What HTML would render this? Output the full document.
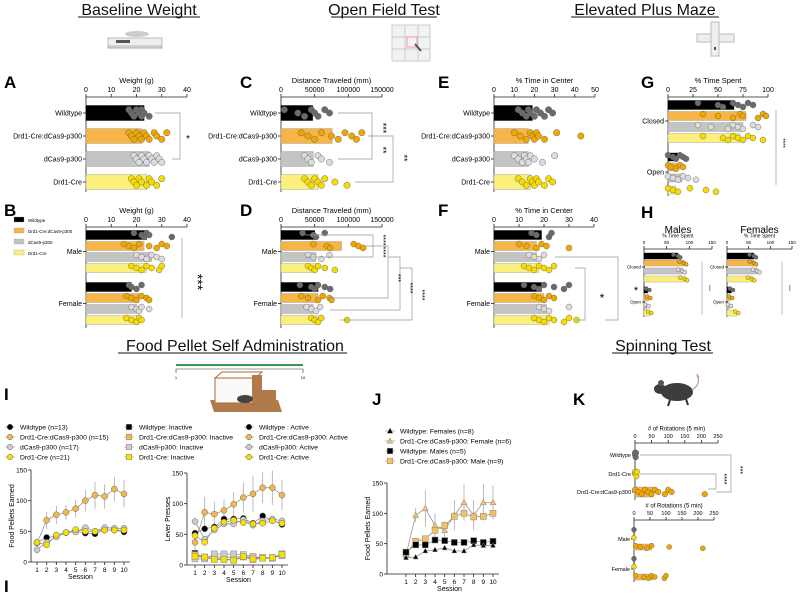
<!DOCTYPE html>
<html><head><meta charset="utf-8">
<style>
html,body{margin:0;padding:0;background:#fff}
svg{display:block;font-family:"Liberation Sans",Arial,sans-serif}
</style></head>
<body>
<svg id="fig" width="800" height="598" viewBox="0 0 800 598" xmlns="http://www.w3.org/2000/svg">
<g font-size="16" fill="#111" text-anchor="middle">
<text x="139" y="15">Baseline Weight</text>
<line x1="78" y1="17" x2="200" y2="17" stroke="#111"/>
<text x="384" y="15">Open Field Test</text>
<line x1="331" y1="17" x2="437" y2="17" stroke="#111"/>
<text x="645" y="15">Elevated Plus Maze</text>
<line x1="571" y1="17" x2="719" y2="17" stroke="#111"/>
<text x="235" y="351">Food Pellet Self Administration</text>
<line x1="118" y1="353" x2="347" y2="353" stroke="#111"/>
<text x="663" y="351">Spinning Test</text>
<line x1="612" y1="353" x2="713" y2="353" stroke="#111"/>
</g>
<g>
<g><polygon points="112,40 158,40 162,48 108,48" fill="#ddd" stroke="#aaa"/><rect x="108" y="38" width="54" height="8" fill="#eee" stroke="#bbb"/><ellipse cx="137" cy="34" rx="12" ry="3" fill="#ccc"/><rect x="116" y="40" width="14" height="3" fill="#555"/></g>
<g><rect x="392" y="25" width="38" height="36" fill="#f1f2f4" stroke="#ccc"/><line x1="405" y1="25" x2="405" y2="61" stroke="#ccc"/><line x1="418" y1="25" x2="418" y2="61" stroke="#ccc"/><line x1="392" y1="37" x2="430" y2="37" stroke="#ccc"/><line x1="392" y1="49" x2="430" y2="49" stroke="#ccc"/><rect x="407" y="37" width="10" height="10" fill="none" stroke="#e9a"/><line x1="415" y1="44" x2="421" y2="51" stroke="#555" stroke-width="2"/></g>
<g><rect x="697" y="34" width="37" height="8" fill="#eee" stroke="#bbb"/><rect x="711" y="22" width="8" height="34" fill="#eee" stroke="#bbb"/><rect x="714" y="47" width="2" height="3" fill="#555"/></g>
<g><polygon points="210,400 278,400 282,412 214,412" fill="#b07a4a"/><rect x="215" y="378" width="40" height="25" fill="#fafafa" stroke="#a66b3a"/><polygon points="215,378 222,372 262,372 255,378" fill="#fff" stroke="#a66b3a"/><rect x="252" y="375" width="10" height="28" fill="#b07a4a"/><rect x="262" y="390" width="14" height="12" fill="#b07a4a"/><ellipse cx="245" cy="399" rx="8" ry="4" fill="#444"/></g>
<line x1="176" y1="365" x2="303" y2="365" stroke="#3a9a4a" stroke-width="2"/>
<path d="M176,373 V369 H303 V373" fill="none" stroke="#333" stroke-width="0.6"/>
<text x="176" y="379" font-size="4" text-anchor="middle">1</text><text x="303" y="379" font-size="4" text-anchor="middle">10</text>
<g><ellipse cx="677" cy="392" rx="16" ry="9" fill="#3d3d3d"/><ellipse cx="660" cy="389" rx="6" ry="5" fill="#3d3d3d"/><circle cx="661" cy="383" r="3" fill="#555"/><path d="M692,390 Q700,385 698,378 T699,378" stroke="#c9928a" fill="none" stroke-width="1.2"/><line x1="670" y1="400" x2="668" y2="406" stroke="#333" stroke-width="2"/><line x1="686" y1="399" x2="688" y2="405" stroke="#333" stroke-width="2"/></g>
</g>
<g id="panels"></g>
</svg>
<script>
// ===== DATA =====
const groups = ["Wildtype","Drd1-Cre:dCas9-p300","dCas9-p300","Drd1-Cre"];
const sexes = ["Male","Female"];
// A weight (g)
const aMeans=[23,22,25,24];
const aDots=[[17,18,19,20,21,22,22,23,25],[17,18,19,20,21,22,23,24,25,27,28,30,32],[19,20,21,22,23,24,25,26,27,28,29,30],[18,19,20,21,22,24,25,26,28,30]];
// B weight by sex
const bMeans=[[24,23,26,24],[18,21,20,21]];
const bDots=[[[19,22,23,24,25,34],[15,17,19,21,25,28,30,32],[20,22,24,26,28,30],[18,20,22,24,26,29,30]],[[17,18,20,22],[16,18,20,22,24,25],[18,20,21,22,25],[16,18,20,21,22]]];
// C distance (mm)
const cMeans=[47000,76000,48000,55000];
const cDots=[[5000,25000,35000,45000,50000,55000,65000,72000],[30000,40000,50000,60000,75000,85000,95000,105000,112000,120000],[35000,40000,45000,55000,60000,72000],[35000,40000,45000,50000,55000,60000,65000,80000,98000]];
// D distance by sex
const dMeans=[[50000,90000,52000,52000],[55000,55000,48000,55000]];
const dDots=[[[32000,48000,52000,65000],[48000,68000,73000,108000,115000,122000],[40000,48000,60000,72000],[40000,45000,50000,55000,65000,80000]],[[28000,45000,50000,55000,65000,73000],[30000,40000,55000,62000,72000,75000],[38000,45000,52000,58000],[45000,50000,55000,60000,98000]]];
// E % time center
const eMeans=[19,17,17,18];
const eDots=[[12,14,16,17,18,20,21,23,25,27,29],[10,13,16,18,19,20,21,22,25,31,43],[10,12,14,15,16,17,18,20,24,30],[12,14,16,18,19,20,21,22,25,27,29]];
// F % time center by sex
const fMeans=[[19,17,17,18],[19,20,21,22]];
const fDots=[[[15,17,22,23],[10,13,17,19,21,30],[14,16,18,20],[12,14,16,18,20,22,24]],[[12,16,18,20,24,28,30],[16,18,20,22,24],[18,20,22,30],[16,18,20,22,24,28,30,33]]];
// G EPM % time spent
const gClosedMeans=[66,78,75,72];
const gOpenMeans=[10,9,14,8];
const gClosedDots=[[30,50,55,65,70,75,80,85],[35,50,65,72,75,90,95,98],[30,43,60,65,70,75,85,90],[35,55,60,65,70,75,80,85,95]];
const gOpenDots=[[0,5,8,12,15,18],[0,3,8,12,15],[0,5,10,15,20,28],[0,5,10,22,38,48]];
// H by sex
const hMalesClosed=[75,88,85,90], hMalesOpen=[8,10,6,12];
const hFemClosed=[62,62,70,58], hFemOpen=[10,8,5,22];
// I food pellets
const sessions=[1,2,3,4,5,6,7,8,9,10];
const iWT=[32,40,42,48,50,47,46,52,52,49];
const iCas=[31,68,77,81,87,100,109,107,119,111];
const iDc=[20,32,41,48,49,56,50,56,55,55];
const iCre=[32,28,44,48,53,50,50,52,52,52];
const iCasErr=[5,14,15,12,14,18,22,20,20,22];
// I lever presses
const lpActWT=[52,59,62,75,75,76,68,80,73,66];
const lpActCas=[37,86,83,89,99,110,116,126,126,114];
const lpActDc=[71,42,57,67,67,74,65,72,75,72];
const lpActCre=[48,37,60,70,73,69,67,68,72,68];
const lpInWT=[19,13,13,13,12,14,12,12,12,18];
const lpInCas=[17,12,10,10,8,13,9,11,11,18];
const lpInDc=[10,10,18,18,18,17,14,11,12,15];
const lpInCre=[14,13,9,9,8,14,10,11,12,17];
const lpCasErr=[20,25,20,18,20,25,30,25,28,25];
// J sex split
const jWTF=[27,28,38,40,43,38,38,48,47,47];
const jCasF=[31,97,108,80,72,97,118,97,118,118];
const jWTM=[36,48,48,56,55,52,52,55,52,54];
const jCasM=[33,54,58,72,80,95,100,94,95,100];
const jErr=[5,12,30,20,15,25,30,25,30,28];
// K rotations
const kMeans=[2,3,55];
const kDots=[[0,1,2,3],[0,2,4,6],[0,10,20,30,40,50,60,70,90,100,110,210]];
const kMaleMeans=[1,2,55], kFemMeans=[1,1,60];
const kMaleDots=[[0],[0],[5,20,40,55,110,215]];
const kFemDots=[[0],[0],[5,30,45,55,65,95,100]];

// ===== HELPERS =====
const NS="http://www.w3.org/2000/svg";
const root=document.getElementById('panels');
function el(tag,attrs,parent,txt){const e=document.createElementNS(NS,tag);for(const k in attrs)e.setAttribute(k,attrs[k]);if(txt!==undefined)e.textContent=txt;(parent||root).appendChild(e);return e;}
const barFill=["#000","#f5b548","#c4c4c4","#fbf07e"];
const dotFill=["#6b6b6b","#f0a800","#dcdcdc","#f6dc00"];
function panelLetter(x,y,t){const e=el('text',{x:x,y:y,'font-size':17,'font-weight':'bold',fill:'#000'},root,t);

}
function hAxis(g,x0,x1,y,max,ticks,title,fs){
 const sx=v=>x0+(x1-x0)*v/max;
 el('line',{x1:x0,y1:y,x2:x1,y2:y,stroke:'#222','stroke-width':0.8},g);
 ticks.forEach(t=>{el('line',{x1:sx(t),y1:y,x2:sx(t),y2:y-3,stroke:'#222','stroke-width':0.8},g);
  const tx=el('text',{x:sx(t),y:y-5,'font-size':fs,'text-anchor':'middle'},g,String(t));
  
  });
 const tt=el('text',{x:(x0+x1)/2,y:y-5-fs-2,'font-size':fs+0.5,'text-anchor':'middle'},g,title);
 
 
 return sx;}
function hRow(g,sx,x0,y,h,gi,mean,dots,r){
 const b=el('rect',{x:x0,y:y-h/2,width:sx(mean)-x0,height:h,fill:barFill[gi],stroke:gi==0?'#000':'#999','stroke-width':0.4},g);
 
 
 dots.forEach((v,i)=>{const c=el('circle',{cx:sx(v),cy:y+((i%3)-1)*h*0.22,r:r,fill:dotFill[gi],stroke:'#555','stroke-width':0.4},g);
  
  });}
function vAxisLine(g,x,y0,y1){el('line',{x1:x,y1:y0,x2:x,y2:y1,stroke:'#222','stroke-width':0.8},g);}
function catLabel(g,x,y,t,fs){const e=el('text',{x:x,y:y+fs*0.35,'font-size':fs,'text-anchor':'end'},g,t);
 
 
 el('line',{x1:x+1,y1:y,x2:x+4,y2:y,stroke:'#222','stroke-width':0.8},g);}
function bracket(g,pts){el('polyline',{points:pts,fill:'none',stroke:'#999','stroke-width':0.7},g);}
function star(g,x,y,t,fs,rot){const e=el('text',{x:x,y:y,'font-size':fs,'text-anchor':'middle',transform:rot?`rotate(90 ${x} ${y})`:''},g,t);
 
 }

// group panels A/C/E
function groupPanel(name,x0,x1,max,ticks,title,means,dots){
 const g=el('g',{});
 const sx=hAxis(g,x0,x1,97,max,ticks,title,7);
 vAxisLine(g,x0,97,192);
 const ys=[113,136,159,182];
 ys.forEach((y,i)=>{catLabel(g,x0-4,y,groups[i],7);hRow(g,sx,x0,y,15,i,means[i],dots[i],3.2);});
 return g;}
function sexPanel(name,x0,x1,max,ticks,title,means,dots){
 const g=el('g',{});
 const sx=hAxis(g,x0,x1,227,max,ticks,title,7);
 vAxisLine(g,x0,227,328);
 const ys=[[235,246,257,268],[287,298,309,320]];
 [0,1].forEach(s=>{catLabel(g,x0-4,(ys[s][1]+ys[s][2])/2,sexes[s],7);
  ys[s].forEach((y,i)=>hRow(g,sx,x0,y,9,i,means[s][i],dots[s][i],3));});
 return g;}

panelLetter(4,88,'A');
let gA=groupPanel('panel-a-weight',86,187,40,[0,10,20,30,40],'Weight (g)',aMeans,aDots);
bracket(gA,'155,113 180,113 180,159 172,159');star(gA,188,142,'*',10);
panelLetter(4,216,'B');
let gB=sexPanel('panel-b-weight-sex',86,187,40,[0,10,20,30,40],'Weight (g)',bMeans,bDots);
el('line',{x1:182,y1:238,x2:182,y2:318,stroke:'#999','stroke-width':0.7},gB);
star(gB,193,282,'***',14,true);
// B legend
groups.forEach((t,i)=>{el('rect',{x:14,y:217+i*11,width:10,height:5,fill:barFill[i],stroke:'#999','stroke-width':0.3},gB);
 const lt=el('text',{x:28,y:222+i*11,'font-size':4.5},gB,t);
 
 });

panelLetter(240,88,'C');
let gC=groupPanel('panel-c-distance',281,382,150000,[0,50000,100000,150000],'Distance Traveled (mm)',cMeans,cDots);
bracket(gC,'338,113 372,113 372,136 368,136');bracket(gC,'368,136 372,136 372,159 338,159');
bracket(gC,'372,136 393,136 393,182 355,182');
star(gC,380,128,'***',9,true);star(gC,380,150,'**',9,true);star(gC,401,158,'**',9,true);
panelLetter(240,216,'D');
let gD=sexPanel('panel-d-distance-sex',281,382,150000,[0,50000,100000,150000],'Distance Traveled (mm)',dMeans,dDots);
bracket(gD,'305,235 373,235 373,246 365,246');bracket(gD,'373,246 373,257 305,257');
bracket(gD,'373,246 388,246 388,298 330,298');bracket(gD,'388,257 400,257 400,310 330,310');
bracket(gD,'400,268 412,268 412,320 340,320');
star(gD,381,240,'****',7,true);star(gD,381,252,'****',7,true);star(gD,396,278,'***',7,true);star(gD,408,288,'****',7,true);star(gD,420,295,'****',7,true);

panelLetter(438,88,'E');
groupPanel('panel-e-center-time',494,595,50,[0,10,20,30,40,50],'% Time in Center',eMeans,eDots);
panelLetter(438,216,'F');
let gF=sexPanel('panel-f-center-time-sex',494,594,40,[0,10,20,30,40],'% Time in Center',fMeans,fDots);
bracket(gF,'555,257 618,257 618,320 605,320');bracket(gF,'575,268 585,268 585,320 575,320');
star(gF,602,302,'*',12);

// G
panelLetter(641,88,'G');
(function(){const g=el('g',{});
 const sx=hAxis(g,668,768,97,100,[0,25,50,75,100],'% Time Spent',7);
 vAxisLine(g,668,97,196);
 const yc=[105,116,127,138],yo=[157,167,178,190];
 catLabel(g,664,121,'Closed',7);catLabel(g,664,172,'Open',7);
 yc.forEach((y,i)=>hRow(g,sx,668,y,9,i,gClosedMeans[i],gClosedDots[i],3));
 yo.forEach((y,i)=>hRow(g,sx,668,y,8,i,gOpenMeans[i],gOpenDots[i],3));
 el('line',{x1:776,y1:110,x2:776,y2:185,stroke:'#999','stroke-width':0.7},g);
 star(g,781,143,'****',6,true);})();
// H
panelLetter(641,218,'H');
function hPanel(name,x0,x1,title,cm,om){
 const g=el('g',{});
 const tt=el('text',{x:(x0+x1)/2,y:233,'font-size':10,'text-anchor':'middle'},g,title);
 
 
 const sx=hAxis(g,x0,x1,249,150,[0,50,100,150],'% Time Spent',4.5);
 vAxisLine(g,x0,249,317);
 catLabel(g,x0-3,267,'Closed',4.5);catLabel(g,x0-3,302,'Open',4.5);
 [256,263,271,279].forEach((y,i)=>hRow(g,sx,x0,y,6,i,cm[i],[cm[i]-10,cm[i],cm[i]+5],2));
 [290,298,306,313].forEach((y,i)=>hRow(g,sx,x0,y,6,i,om[i],[om[i]-3,om[i]+4],2));
 el('line',{x1:x1-10,y1:262,x2:x1-10,y2:315,stroke:'#999','stroke-width':0.6},g);
 star(g,x1-4,288,'****',4,true);}
hPanel('panel-h-males',644,712,'Males',hMalesClosed,hMalesOpen);
hPanel('panel-h-females',727,792,'Females',hFemClosed,hFemOpen);
star(root,636,294,'*',11);

// ===== line charts =====
function marker(g,shape,x,y,fill,s){let e;
 if(shape=='c')e=el('circle',{cx:x,cy:y,r:s,fill:fill,stroke:'#666','stroke-width':0.5},g);
 else if(shape=='s')e=el('rect',{x:x-s,y:y-s,width:2*s,height:2*s,fill:fill,stroke:'#888','stroke-width':0.5},g);
 else e=el('polygon',{points:`${x},${y-s*1.1} ${x-s},${y+s*0.8} ${x+s},${y+s*0.8}`,fill:fill,stroke:'#888','stroke-width':0.5},g);
 
 }
function lineChart(name,xa,x1s,x10,y0,y150,ylabel){
 const g=el('g',{});
 const sx=s=>x1s+(x10-x1s)*(s-1)/9, sy=v=>y0+(y150-y0)*v/150;
 vAxisLine(g,xa,y150,y0);el('line',{x1:xa,y1:y0,x2:x10+6,y2:y0,stroke:'#222','stroke-width':0.8},g);
 [0,50,100,150].forEach(t=>{el('line',{x1:xa-3,y1:sy(t),x2:xa,y2:sy(t),stroke:'#222','stroke-width':0.8},g);
  const tx=el('text',{x:xa-4,y:sy(t)+2.5,'font-size':6.5,'text-anchor':'end'},g,String(t));
  
  });
 sessions.forEach(s=>{el('line',{x1:sx(s),y1:y0,x2:sx(s),y2:y0+3,stroke:'#222','stroke-width':0.8},g);
  const tx=el('text',{x:sx(s),y:y0+10,'font-size':6.5,'text-anchor':'middle'},g,String(s));
  
  });
 const xl=el('text',{x:(x1s+x10)/2,y:y0+17,'font-size':7,'text-anchor':'middle'},g,'Session');
 
 
 const yl=el('text',{x:xa-17,y:(y0+y150)/2,'font-size':7,'text-anchor':'middle',transform:`rotate(-90 ${xa-17} ${(y0+y150)/2})`},g,ylabel);
 
 
 return {g,sx,sy};}
function series(c,vals,shape,fill,err,s){
 const pts=sessions.map((ss,i)=>c.sx(ss)+','+c.sy(vals[i])).join(' ');
 if(err)sessions.forEach((ss,i)=>el('line',{x1:c.sx(ss),y1:c.sy(vals[i]-err[i]),x2:c.sx(ss),y2:c.sy(vals[i]+err[i]),stroke:'#aaa','stroke-width':0.8},c.g));
 const pl=el('polyline',{points:pts,fill:'none',stroke:'#888','stroke-width':0.7},c.g);
 
 
 sessions.forEach((ss,i)=>marker(c.g,shape,c.sx(ss),c.sy(vals[i]),fill,s||3));}
panelLetter(4,400,'I');panelLetter(4,592,'I');
let c1=lineChart('panel-i-food-pellets',31,37,124,562,470,'Food Pellets Earned');
series(c1,iCas,'c','#f5b548',iCasErr);series(c1,iWT,'c','#000');series(c1,iDc,'c','#ccc');series(c1,iCre,'c','#f6e000');
let c2=lineChart('panel-i-lever-presses',187,195,282,565,473,'Lever Presses');
series(c2,lpActCas,'c','#f5b548',lpCasErr);series(c2,lpActWT,'c','#000');series(c2,lpActDc,'c','#ccc');series(c2,lpActCre,'c','#f6e000');
series(c2,lpInWT,'s','#000');series(c2,lpInCas,'s','#f5b548');series(c2,lpInDc,'s','#ccc');series(c2,lpInCre,'s','#f6e000');
panelLetter(372,405,'J');
let c3=lineChart('panel-j-sex-pellets',387,406,493,574,483,'Food Pellets Earned');
series(c3,jCasF,'t','#f5c060',jErr);series(c3,jCasM,'s','#f5c060');series(c3,jWTM,'s','#000');series(c3,jWTF,'t','#000',null,2.5);

// legends
function legend(x,y,items){items.forEach((it,i)=>{const g=el('g',{});
 
 
 el('line',{x1:x-5,y1:y+i*10,x2:x+5,y2:y+i*10,stroke:'#888','stroke-width':0.6},g);
 marker(g,it[0],x,y+i*10,it[1],2.8);
 el('text',{x:x+10,y:y+i*10+2.5,'font-size':6.8},g,it[2]);});}
legend(10,427,[['c','#000','Wildtype (n=13)'],['c','#f5b548','Drd1-Cre:dCas9-p300 (n=15)'],['c','#ccc','dCas9-p300 (n=17)'],['c','#f6e000','Drd1-Cre (n=21)']]);
legend(129,427,[['s','#000','Wildtype: Inactive'],['s','#f5b548','Drd1-Cre:dCas9-p300: Inactive'],['s','#ccc','dCas9-p300: Inactive'],['s','#f6e000','Drd1-Cre: Inactive']]);
legend(249,427,[['c','#000','Wildtype : Active'],['c','#f5b548','Drd1-Cre:dCas9-p300: Active'],['c','#ccc','dCas9-p300: Active'],['c','#f6e000','Drd1-Cre: Active']]);
legend(390,431,[['t','#000','Wildtype: Females (n=8)'],['t','#f5c060','Drd1-Cre:dCas9-p300: Female (n=6)'],['s','#000','Wildtype: Males (n=5)'],['s','#f5c060','Drd1-Cre:dCas9-p300: Male (n=9)']]);

// K
panelLetter(573,405,'K');
const kGroupIdx=[0,3,1];
const kLabels=["Wildtype","Drd1-Cre","Drd1-Cre:dCas9-p300"];
(function(){const g=el('g',{});
 const sx=hAxis(g,635,718,443,250,[0,50,100,150,200,250],'# of Rotations (5 min)',5.5);
 vAxisLine(g,635,443,500);
 [455,474,492].forEach((y,i)=>{catLabel(g,631,y,kLabels[i],5.5);hRow(g,sx,635,y,10,kGroupIdx[i],kMeans[i],kDots[i],2.8);});
 bracket(g,'640,455 731,455 731,492 716,492');bracket(g,'640,474 716,474 716,489 708,489');
 star(g,722,479,'****',7,true);star(g,738,470,'***',7,true);
 const sx2=hAxis(g,634,714,520,250,[0,50,100,150,200,250],'# of Rotations (5 min)',5.5);
 vAxisLine(g,634,520,582);
 catLabel(g,630,539,'Male',5.5);catLabel(g,630,569,'Female',5.5);
 [531,539,547].forEach((y,i)=>hRow(g,sx2,634,y,6,kGroupIdx[i],kMaleMeans[i],kMaleDots[i],2.5));
 [560,568,577].forEach((y,i)=>hRow(g,sx2,634,y,6,kGroupIdx[i],kFemMeans[i],kFemDots[i],2.5));})();
</script>
</body></html>
